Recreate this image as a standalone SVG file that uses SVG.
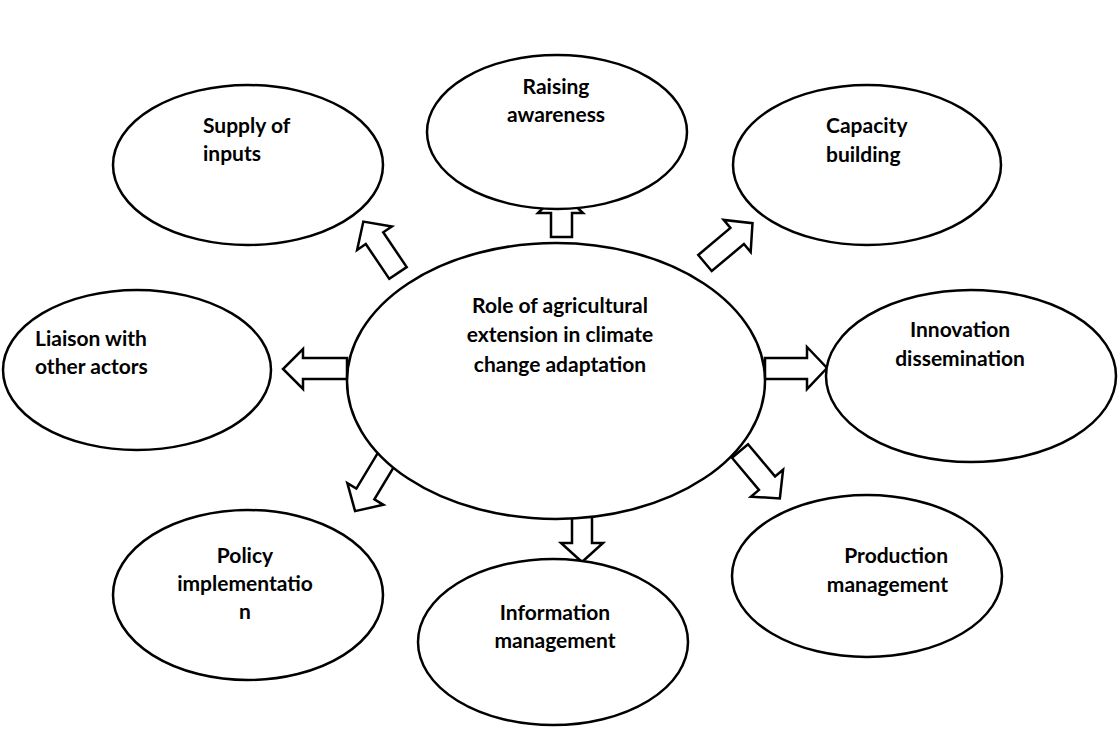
<svg xmlns="http://www.w3.org/2000/svg" width="1120" height="730" viewBox="0 0 1120 730">
<style>
.n{fill:#fff;stroke:#000;stroke-width:2.5}
.a{fill:#fff;stroke:#000;stroke-width:2.5;stroke-linejoin:miter}
text{font-family:Lato,"Liberation Sans",sans-serif;font-weight:bold;font-size:21px;fill:#000}
.c{text-anchor:middle}
.e{text-anchor:end}
</style>
<defs>
<path id="arw" d="M0,-10.5 H42 V-21 L62,0 L42,21 V10.5 H0 Z"/>
</defs>
<rect width="1120" height="730" fill="#fff"/>
<g id="connectors">
<polygon class="a" points="347,358 303,358 303,349 283,369 303,389 303,379 347,379"/>
<polygon class="a" points="765,358 807,358 807,347 827,368 807,389 807,379 765,379"/>
<polygon class="a" points="551,237 551,213 538,213 560,191 583,213 572,213 572,237"/>
<polygon class="a" points="572,509 572,543 561,543 582,562 603,543 592,543 592,509"/>
<use href="#arw" class="a" transform="translate(705,263) rotate(-40)"/>
<use href="#arw" class="a" transform="translate(398,273) rotate(-124)"/>
<use href="#arw" class="a" transform="translate(387,458) rotate(121)"/>
<use href="#arw" class="a" transform="translate(740,451) rotate(50)"/>
</g>
<g id="center">
<ellipse class="n" cx="556" cy="381" rx="209" ry="138"/>
<text class="c" x="560" y="313">Role of agricultural</text>
<text class="c" x="560" y="342">extension in climate</text>
<text class="c" x="560" y="372">change adaptation</text>
</g>
<g id="raising">
<ellipse class="n" cx="557" cy="132" rx="130" ry="77"/>
<text class="c" x="556" y="94">Raising</text>
<text class="c" x="556" y="122">awareness</text>
</g>
<g id="supply">
<ellipse class="n" cx="248" cy="165" rx="135" ry="80"/>
<text x="203" y="133">Supply of</text>
<text x="203" y="161">inputs</text>
</g>
<g id="capacity">
<ellipse class="n" cx="867" cy="165" rx="134" ry="80"/>
<text x="826" y="133">Capacity</text>
<text x="826" y="162">building</text>
</g>
<g id="liaison">
<ellipse class="n" cx="137" cy="370" rx="134" ry="80"/>
<text x="35" y="346">Liaison with</text>
<text x="35" y="374">other actors</text>
</g>
<g id="innovation">
<ellipse class="n" cx="971" cy="376" rx="145" ry="86"/>
<text class="c" x="960" y="337">Innovation</text>
<text class="c" x="960" y="366">dissemination</text>
</g>
<g id="policy">
<ellipse class="n" cx="248" cy="595" rx="135" ry="85"/>
<text class="c" x="245" y="563">Policy</text>
<text class="c" x="245" y="591">implementatio</text>
<text class="c" x="245" y="619">n</text>
</g>
<g id="information">
<ellipse class="n" cx="553" cy="642" rx="135" ry="83"/>
<text class="c" x="555" y="620">Information</text>
<text class="c" x="555" y="648">management</text>
</g>
<g id="production">
<ellipse class="n" cx="867" cy="576" rx="135" ry="81"/>
<text class="e" x="948" y="563">Production</text>
<text class="e" x="948" y="592">management</text>
</g>
</svg>
